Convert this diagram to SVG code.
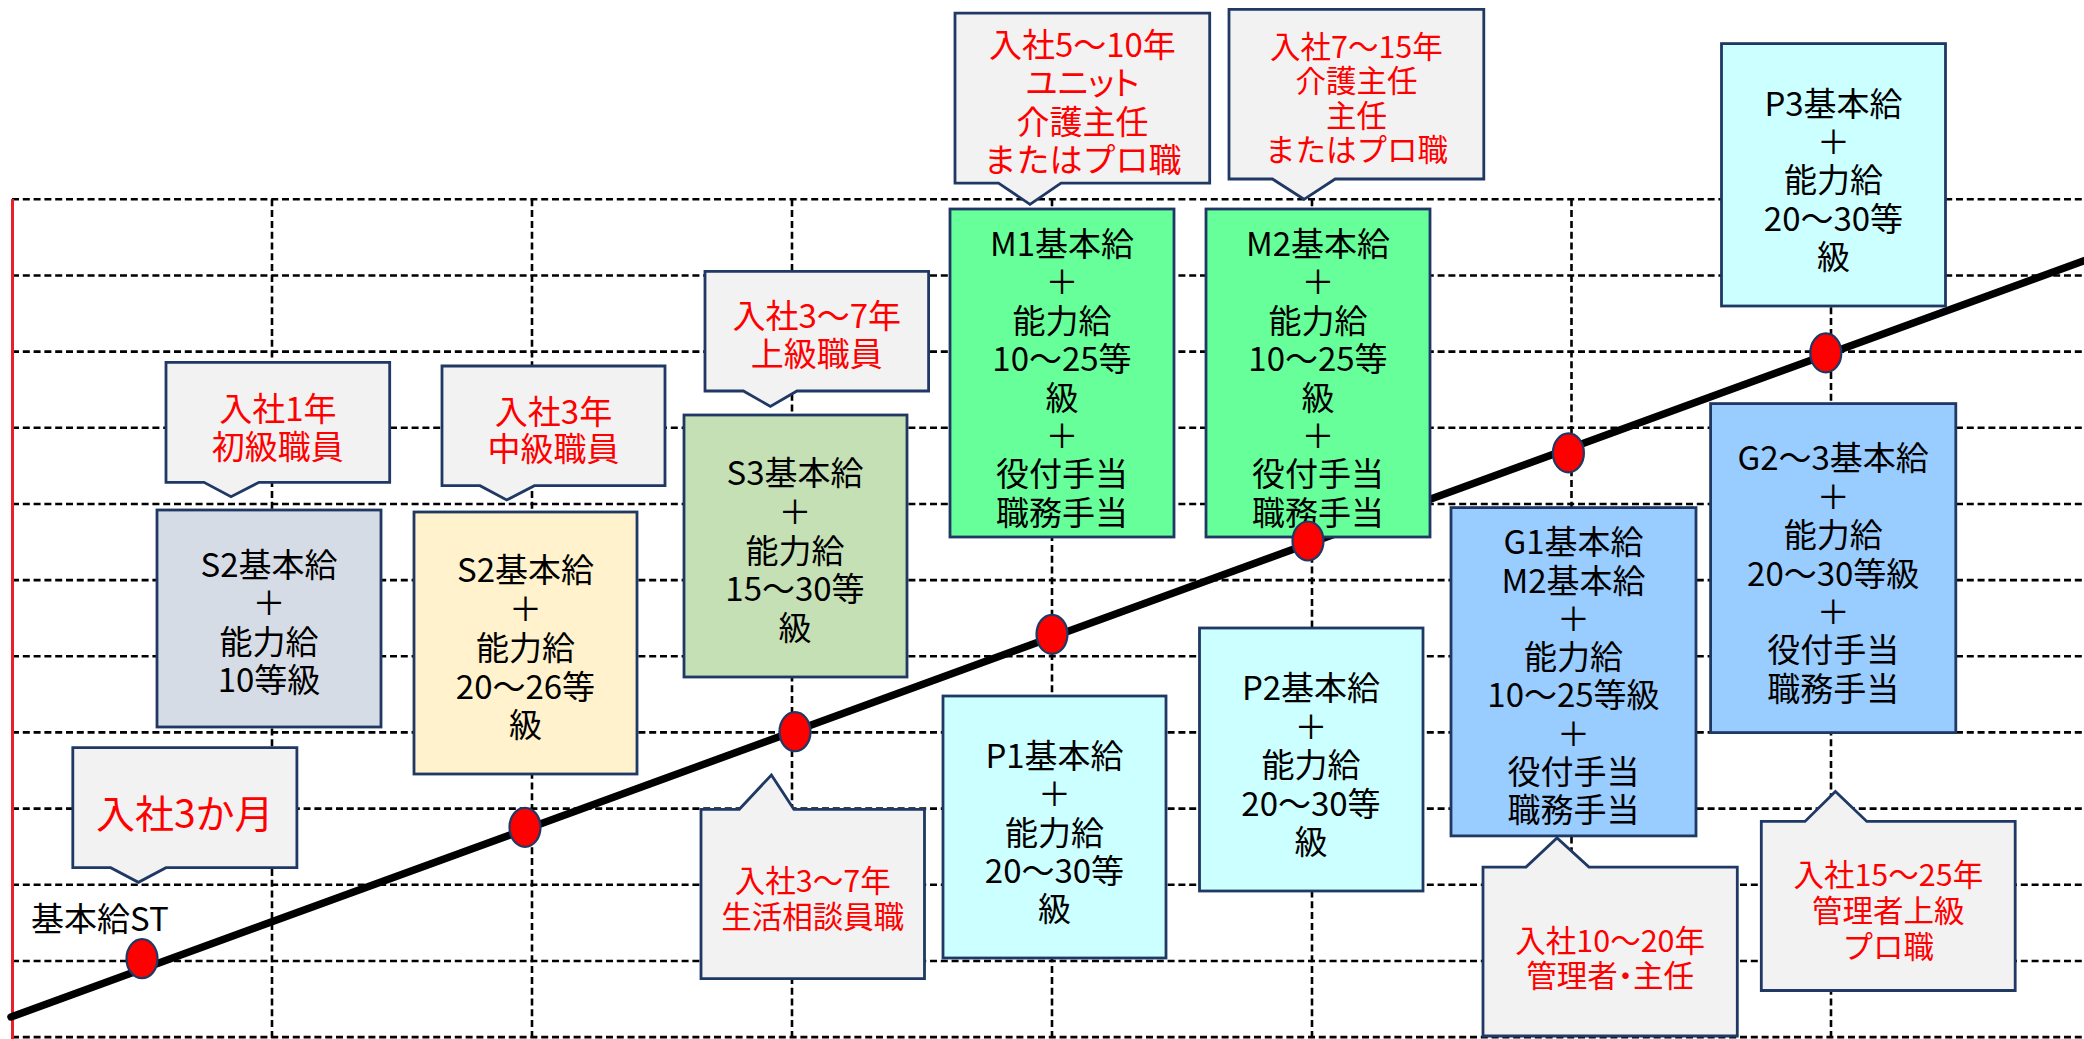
<svg xmlns="http://www.w3.org/2000/svg" width="2084" height="1039" viewBox="0 0 2084 1039">
<style>
.grid{stroke:#000;stroke-width:2.6;stroke-dasharray:7 3.8;fill:none}
.box{stroke:#1F3864;stroke-width:2.8}
.call{fill:#F2F2F2;stroke:#1F3864;stroke-width:2.8}
.t{font-family:"Noto Sans CJK JP","Noto Sans CJK SC",sans-serif;font-size:33px;text-anchor:middle;dominant-baseline:central;fill:#000}
.r{fill:#FF0000}
.s{font-size:30.5px}
.p{font-feature-settings:"palt"}
.dot{fill:#FF0000;stroke:#1F3864;stroke-width:2.2}
</style>
<rect width="2084" height="1039" fill="#FFFFFF"/>
<g id="grid">
<path class="grid" d="M12 199.3H2084M12 275.5H2084M12 351.6H2084M12 427.8H2084M12 504H2084M12 580.1H2084M12 656.3H2084M12 732.4H2084M12 808.6H2084M12 884.8H2084M12 961H2084M12 1037.1H2084"/>
<path class="grid" d="M272 199.3V1039M532 199.3V1039M792 199.3V1039M1052 199.3V1039M1312 199.3V1039M1571.5 199.3V1039M1831 199.3V1039"/>
<line x1="12.5" y1="199" x2="12.5" y2="1039" stroke="#E8202A" stroke-width="3"/>
</g>
<g id="connectors">
<line x1="11" y1="1017" x2="2090" y2="258.5" stroke="#000" stroke-width="7.5" stroke-linecap="round"/>
</g>
<g id="label-st"><text class="t" x="31" y="916.7" style="text-anchor:start">基本給ST</text></g>
<g id="box-s2-gray"><rect class="box" x="157" y="510" width="224" height="217" fill="#D6DCE5"/>
<text class="t"><tspan x="269" y="562.7">S2基本給</tspan><tspan x="269" y="601.2">＋</tspan><tspan x="269" y="639.7">能力給</tspan><tspan x="269" y="678.2">10等級</tspan></text></g>
<g id="box-s2-yellow"><rect class="box" x="414" y="512" width="223" height="262" fill="#FFF2CC"/>
<text class="t"><tspan x="525.5" y="568">S2基本給</tspan><tspan x="525.5" y="607">＋</tspan><tspan x="525.5" y="646">能力給</tspan><tspan x="525.5" y="684.5">20～26等</tspan><tspan x="525.5" y="723">級</tspan></text></g>
<g id="box-s3"><rect class="box" x="684" y="415" width="223" height="262" fill="#C5E0B4"/>
<text class="t"><tspan x="795" y="471.4">S3基本給</tspan><tspan x="795" y="510">＋</tspan><tspan x="795" y="548.7">能力給</tspan><tspan x="795" y="587.4">15～30等</tspan><tspan x="795" y="626">級</tspan></text></g>
<g id="box-m1"><rect class="box" x="950" y="209" width="224" height="328" fill="#66FF99"/>
<text class="t"><tspan x="1062" y="242">M1基本給</tspan><tspan x="1062" y="280.4">＋</tspan><tspan x="1062" y="318.8">能力給</tspan><tspan x="1062" y="357.2">10～25等</tspan><tspan x="1062" y="395.6">級</tspan><tspan x="1062" y="434">＋</tspan><tspan x="1062" y="472.4">役付手当</tspan><tspan x="1062" y="510.8">職務手当</tspan></text></g>
<g id="box-m2"><rect class="box" x="1206" y="209" width="224" height="328" fill="#66FF99"/>
<text class="t"><tspan x="1318" y="242">M2基本給</tspan><tspan x="1318" y="280.4">＋</tspan><tspan x="1318" y="318.8">能力給</tspan><tspan x="1318" y="357.2">10～25等</tspan><tspan x="1318" y="395.6">級</tspan><tspan x="1318" y="434">＋</tspan><tspan x="1318" y="472.4">役付手当</tspan><tspan x="1318" y="510.8">職務手当</tspan></text></g>
<g id="box-p1"><rect class="box" x="943" y="696" width="223" height="262" fill="#CCFFFF"/>
<text class="t"><tspan x="1054.5" y="754">P1基本給</tspan><tspan x="1054.5" y="792.3">＋</tspan><tspan x="1054.5" y="830.6">能力給</tspan><tspan x="1054.5" y="869">20～30等</tspan><tspan x="1054.5" y="907">級</tspan></text></g>
<g id="box-p2"><rect class="box" x="1199.5" y="628" width="223.5" height="263" fill="#CCFFFF"/>
<text class="t"><tspan x="1311" y="686">P2基本給</tspan><tspan x="1311" y="724.5">＋</tspan><tspan x="1311" y="763">能力給</tspan><tspan x="1311" y="801.5">20～30等</tspan><tspan x="1311" y="840">級</tspan></text></g>
<g id="box-p3"><rect class="box" x="1721.5" y="43.6" width="224" height="262.4" fill="#CCFFFF"/>
<text class="t"><tspan x="1833.5" y="101.8">P3基本給</tspan><tspan x="1833.5" y="140">＋</tspan><tspan x="1833.5" y="178.3">能力給</tspan><tspan x="1833.5" y="216.6">20～30等</tspan><tspan x="1833.5" y="255">級</tspan></text></g>
<g id="box-g23"><rect class="box" x="1710.6" y="403.6" width="245.2" height="329" fill="#99CCFF"/>
<text class="t"><tspan x="1833.2" y="456.4">G2～3基本給</tspan><tspan x="1833.2" y="494.8">＋</tspan><tspan x="1833.2" y="533.2">能力給</tspan><tspan x="1833.2" y="571.6">20～30等級</tspan><tspan x="1833.2" y="610">＋</tspan><tspan x="1833.2" y="648.4">役付手当</tspan><tspan x="1833.2" y="686.8">職務手当</tspan></text></g>
<g id="box-g1"><rect class="box" x="1451" y="507.6" width="245" height="328.3" fill="#99CCFF"/>
<text class="t"><tspan x="1573.5" y="540.2">G1基本給</tspan><tspan x="1573.5" y="578.5">M2基本給</tspan><tspan x="1573.5" y="616.8">＋</tspan><tspan x="1573.5" y="655.1">能力給</tspan><tspan x="1573.5" y="693.4">10～25等級</tspan><tspan x="1573.5" y="731.7">＋</tspan><tspan x="1573.5" y="770">役付手当</tspan><tspan x="1573.5" y="808.3">職務手当</tspan></text></g>
<g id="call-3m"><path class="call" d="M72.8 747.7H296.9V867.7H166L138.4 882.3L110.7 867.7H72.8Z"/>
<text class="t r" x="184.8" y="810.7" style="font-size:39px">入社3か月</text></g>
<g id="call-1y"><path class="call" d="M166 362.3H389.7V482.3H259L231 496.7L204 482.3H166Z"/>
<text class="t r"><tspan x="277.8" y="406.7">入社1年</tspan><tspan x="277.8" y="445">初級職員</tspan></text></g>
<g id="call-3y"><path class="call" d="M442 366H665V485.7H534.4L506.7 500L480 485.7H442Z"/>
<text class="t r"><tspan x="553.5" y="410">入社3年</tspan><tspan x="553.5" y="446.7">中級職員</tspan></text></g>
<g id="call-37-up"><path class="call" d="M705 271.4H928.6V391H797L770.4 406.4L743.4 391H705Z"/>
<text class="t r"><tspan x="816.8" y="314.3">入社3～7年</tspan><tspan x="816.8" y="351.8">上級職員</tspan></text></g>
<g id="call-37-down"><path class="call" d="M701 809.3H739.3L771.4 775L793.9 809.3H924.5V978.7H701Z"/>
<text class="t r s"><tspan x="812.8" y="879.3">入社3～7年</tspan><tspan x="812.8" y="915">生活相談員職</tspan></text></g>
<g id="call-510"><path class="call" d="M955 13.2H1209.7V183.2H1061L1030 204.3L998.5 183.2H955Z"/>
<text class="t r"><tspan x="1082.4" y="42.9">入社5～10年</tspan><tspan x="1082.4" y="81.4" class="p">ユニット</tspan><tspan x="1082.4" y="119.6">介護主任</tspan><tspan x="1082.4" y="158.2">またはプロ職</tspan></text></g>
<g id="call-715"><path class="call" d="M1229 9.3H1483.8V179H1335.2L1304 199.3L1272.4 179H1229Z"/>
<text class="t r s"><tspan x="1356.4" y="44.6">入社7～15年</tspan><tspan x="1356.4" y="79.3">介護主任</tspan><tspan x="1356.4" y="114.3">主任</tspan><tspan x="1356.4" y="148.2">またはプロ職</tspan></text></g>
<g id="call-1020"><path class="call" d="M1483 867.1H1526L1557 837.9L1589 867.1H1737.3V1036H1483Z"/>
<text class="t r s"><tspan x="1610.2" y="939.3">入社10～20年</tspan><tspan x="1610.2" y="973.7" class="p">管理者・主任</tspan></text></g>
<g id="call-1525"><path class="call" d="M1761.3 821.4H1805L1835.4 791.5L1866.8 821.4H2015.2V990.5H1761.3Z"/>
<text class="t r s"><tspan x="1888.3" y="873">入社15～25年</tspan><tspan x="1888.3" y="909">管理者上級</tspan><tspan x="1888.3" y="944.5">プロ職</tspan></text></g>
<g id="dots">
<ellipse class="dot" cx="142" cy="958.7" rx="15.5" ry="19.5"/>
<ellipse class="dot" cx="525" cy="827.3" rx="15.5" ry="19.5"/>
<ellipse class="dot" cx="795" cy="731.7" rx="15.5" ry="19.5"/>
<ellipse class="dot" cx="1052" cy="634.3" rx="15.5" ry="19.5"/>
<ellipse class="dot" cx="1308" cy="541" rx="15.5" ry="19.5"/>
<ellipse class="dot" cx="1568.4" cy="452.9" rx="15.5" ry="19.5"/>
<ellipse class="dot" cx="1825.8" cy="352.9" rx="15.5" ry="19.5"/>
</g>
</svg>
